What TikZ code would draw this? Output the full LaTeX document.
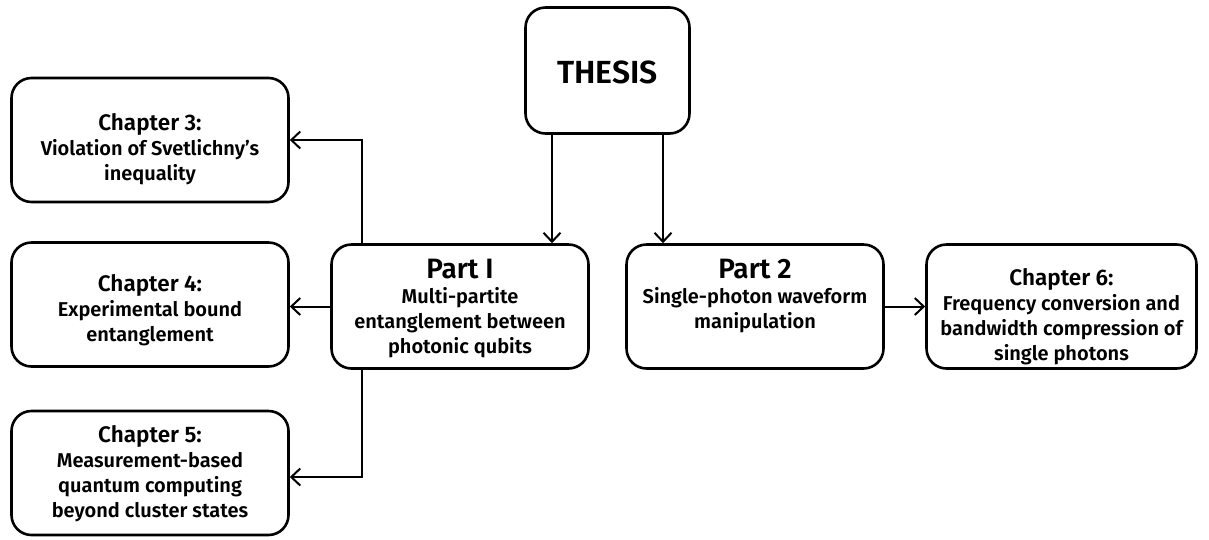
\documentclass[tikz,border=0pt]{standalone}
\usepackage{fontspec}
\setmainfont{Fira Sans}[UprightFont={* SemiBold}]
\usetikzlibrary{arrows.meta}
\tikzset{
  box/.style={draw, line width=2.6pt, rounded corners=20pt, minimum width=277pt, minimum height=124pt, inner sep=0pt, align=center},
  txt/.style={align=center, inner sep=0pt, anchor=north, font=\fontsize{20}{25}\selectfont},
  conn/.style={line width=2pt, -{Straight Barb[length=9pt,width=17pt,line width=2pt]}},
}
\newcommand{\hd}{\fontsize{22.5}{25}\selectfont}
\newcommand{\pt}{\fontsize{28}{25}\selectfont}
\begin{document}
\begin{tikzpicture}[x=1pt,y=-1pt]
\useasboundingbox (0,0) rectangle (1209,539);
% boxes
\node[box, minimum width=164pt, minimum height=126pt] (thesis) at (607.5,70.5) {};
\node[inner sep=0pt] (thesist) at ([yshift=-2pt]thesis.center) {\fontsize{32}{30}\selectfont THESIS};
\node[box] (ch3) at (150,140) {};
\node[txt] (ch3t) at ([yshift=-37pt]ch3.north) {{\hd Chapter 3:}\\Violation of Svetlichny’s\\inequality};
\node[box] (ch4) at (150,304.5) {};
\node[txt] (ch4t) at ([yshift=-33pt]ch4.north) {{\hd Chapter 4:}\\Experimental bound\\entanglement};
\node[box] (ch5) at (150,473) {};
\node[txt] (ch5t) at ([yshift=-16pt]ch5.north) {{\hd Chapter 5:}\\Measurement-based\\quantum computing\\beyond cluster states};
\node[box, minimum width=257pt] (p1) at (460,306.5) {};
\node[txt] (p1t) at ([yshift=-16pt]p1.north) {{\pt Part I}\\Multi-partite\\entanglement between\\photonic qubits};
\node[box, minimum width=257pt] (p2) at (755,306.5) {};
\node[txt] (p2t) at ([yshift=-16pt]p2.north) {{\pt Part 2}\\Single-photon waveform\\manipulation};
\node[box, minimum width=270pt] (ch6) at (1061.5,306.5) {};
\node[txt] (ch6t) at ([yshift=-25pt]ch6.north) {{\hd Chapter 6:}\\Frequency conversion and\\bandwidth compression of\\single photons};
% connectors
\draw[conn] (thesis.south -| 552,0) -- (p1.north -| 552,0);
\draw[conn] (thesis.south -| 663,0) -- (p2.north -| 663,0);
\draw[conn] (p1.north -| 362,0) |- (ch3.east);
\draw[conn] (p1.west) -- (ch4.east |- p1.west);
\draw[conn] (p1.south -| 362,0) |- (ch5.east |- 0,477);
\draw[conn] (p2.east) -- (ch6.west);
\end{tikzpicture}
\end{document}
